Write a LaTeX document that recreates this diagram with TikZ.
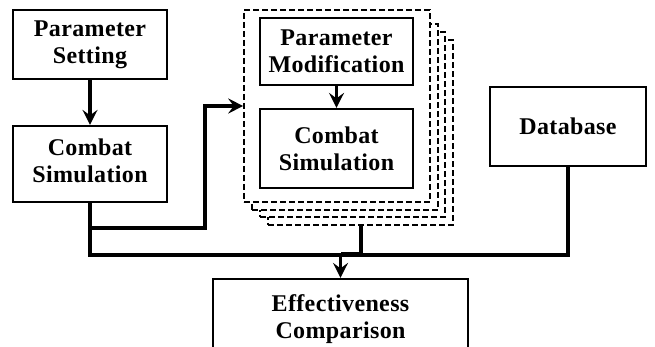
\documentclass[tikz,border=0pt]{standalone}
\usepackage{fontspec}
\setmainfont{Liberation Serif}[LetterSpace=1.5]
\usetikzlibrary{arrows.meta}
\tikzset{
  box/.style={draw, line width=2.2pt, fill=white, align=center, inner sep=0pt,
    font=\fontsize{24}{27}\selectfont\bfseries},
  layer/.style={draw, line width=1.6pt, dash pattern=on 6pt off 3pt, fill=white,
    inner sep=0pt},
  conn/.style={line width=3.2pt},
  arrow/.style={conn, -{Stealth[length=15pt, width=15pt, inset=5.5pt]}},
}
\begin{document}
\begin{tikzpicture}[x=1pt, y=-1pt]
\useasboundingbox (0,0) rectangle (655,347);
\clip (0,0) rectangle (655,347);

% left column
\node[box, minimum width=154pt, minimum height=69pt] (ps) at (90,44.5) {Parameter\\Setting};
\node[box, minimum width=154pt, minimum height=76pt] (cs) at (90,164) {\raisebox{3pt}{\begin{tabular}{@{}c@{}}Combat\\Simulation\end{tabular}}};

% stacked runs (dashed sheets, back to front)
\node[layer, minimum width=185pt, minimum height=185pt] (stack3) at (360.5,132.5) {};
\node[layer, minimum width=185pt, minimum height=185pt] (stack2) at (352.5,124.5) {};
\node[layer, minimum width=186pt, minimum height=186pt] (stack1) at (345,117) {};
\node[layer, minimum width=186pt, minimum height=192pt] (stack0) at (337,106) {};
\node[box, minimum width=153pt, minimum height=67pt] (pm) at (336.5,51.5) {Parameter\\Modification};
\node[box, minimum width=153pt, minimum height=79pt] (ics) at (336.5,148.5) {Combat\\Simulation};

% right column and result
\node[box, minimum width=156pt, minimum height=79pt] (db) at (568,126.5) {Database};
\node[box, minimum width=255pt, minimum height=80pt] (ec) at (340.5,319) {Effectiveness\\Comparison};

% routing points
\coordinate (bend) at (205,228);
\coordinate (mainy) at (0,255);
\coordinate (jx) at (361,254);

% connectors
\draw[arrow] (ps) -- (cs);
\draw[arrow] (pm) -- (ics);
\draw[arrow] (cs.south |- bend) -- (bend) |- (stack0.west);
\draw[conn] (cs.south) |- (mainy -| db.south) -- (db.south);
\draw[conn] (stack3.south -| jx) -- (jx) -- (jx -| ec.north);
\draw[arrow] (ec.north |- mainy) -- (ec.north);
\end{tikzpicture}
\end{document}
